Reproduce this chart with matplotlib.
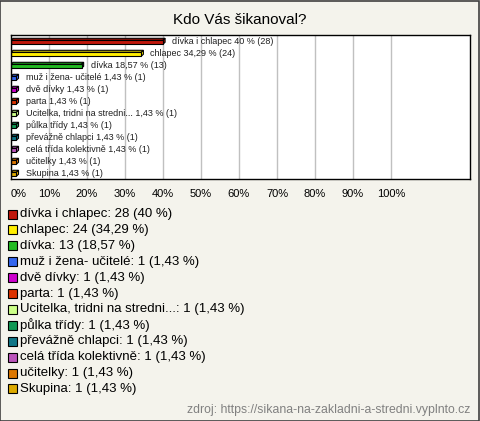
import matplotlib.pyplot as plt
from matplotlib.patches import Polygon, Rectangle

plt.rcParams['font.family'] = ['Liberation Sans', 'DejaVu Sans']

title = "Kdo Vás šikanoval?"
source = "zdroj: https://sikana-na-zakladni-a-stredni.vyplnto.cz"

names = ["dívka i chlapec", "chlapec", "dívka", "muž i žena- učitelé", "dvě dívky",
         "parta", "Ucitelka, tridni na stredni...", "půlka třídy", "převážně chlapci",
         "celá třída kolektivně", "učitelky", "Skupina"]
counts = [28, 24, 13, 1, 1, 1, 1, 1, 1, 1, 1, 1]
percents = [40, 34.29, 18.57, 1.43, 1.43, 1.43, 1.43, 1.43, 1.43, 1.43, 1.43, 1.43]
colors = ["#c0180c", "#ffee00", "#22bb22", "#3366ee", "#cc00cc", "#dd3300",
          "#ccff88", "#119955", "#117788", "#bb55bb", "#dd7700", "#ddaa00"]
xticks = [0, 10, 20, 30, 40, 50, 60, 70, 80, 90, 100]


def fmt(p):
    s = f"{p:.2f}".rstrip('0').rstrip('.')
    return s.replace('.', ',')


fig = plt.figure(figsize=(4.8, 4.21), dpi=100, facecolor="#f4f3ec")
fig.patches.append(Rectangle((0.001, 0.001), 0.997, 0.997, transform=fig.transFigure,
                             fill=False, edgecolor="#404040", linewidth=1.2))

ax = fig.add_axes([11 / 480, 1 - 179 / 421, 459 / 480, 144 / 421])
ax.set_xlim(0, 120.8)
ax.set_ylim(len(names) - 0.5, -0.5)
ax.set_xticks(xticks)
ax.set_xticklabels([f"{t}%" for t in xticks], fontsize=8)
ax.get_xticklabels()[0].set_horizontalalignment('left')
ax.set_yticks([])
ax.tick_params(axis='x', length=0, pad=7)
ax.grid(axis='x', color="#c0c0c0", linewidth=1)
ax.set_axisbelow(True)
for sp in ax.spines.values():
    sp.set_linewidth(1)

# 3D-looking bars
h = 0.33
dx, dy = 0.55, 0.16
for i, (v, c) in enumerate(zip(percents, colors)):
    y0 = i + 0.1 - h / 2
    y1 = i + 0.1 + h / 2
    top = Polygon([(0, y0), (dx, y0 - dy), (v + dx, y0 - dy), (v, y0)],
                  facecolor=c, edgecolor="black", linewidth=0.8)
    side = Polygon([(v, y0), (v + dx, y0 - dy), (v + dx, y1 - dy), (v, y1)],
                   facecolor=c, edgecolor="black", linewidth=0.8)
    ax.add_patch(top)
    ax.add_patch(side)
    ax.barh(i + 0.1, v, height=h, color=c, edgecolor="black", linewidth=0.8)
    ax.text(v + 2.4, i, f"{names[i]} {fmt(v)} % ({counts[i]})", fontsize=6.5,
            va='center', ha='left', color="#202020")

fig.text(0.5, 1 - 20 / 421, title, ha='center', va='center', fontsize=11)

# legend
for i, (n, c, p) in enumerate(zip(names, colors, percents)):
    yc = 1 - (214 + i * 15.9) / 421
    fig.patches.append(Rectangle((8 / 480, yc - 4.5 / 421), 9 / 480, 9 / 421,
                                 transform=fig.transFigure, facecolor=c,
                                 edgecolor="black", linewidth=0.8))
    fig.text(20.5 / 480, yc, f"{n}: {counts[i]} ({fmt(p)} %)", fontsize=9.5,
             va='center', ha='left')

fig.text(470 / 480, 1 - 410 / 421, source, ha='right', va='center',
         fontsize=8.8, color="#808080")

fig.savefig("out.png", dpi=100, facecolor=fig.get_facecolor())
